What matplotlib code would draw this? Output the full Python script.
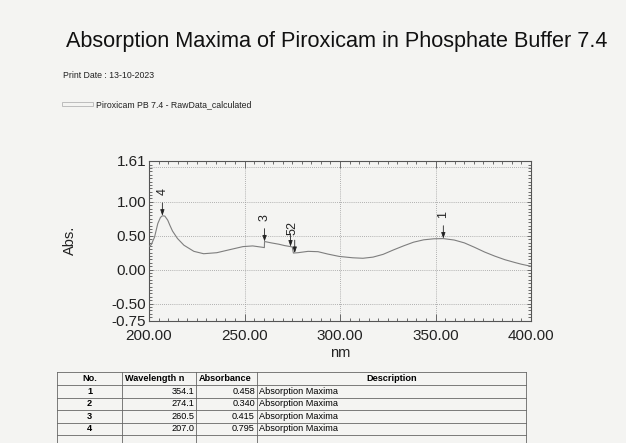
import matplotlib
matplotlib.use("Agg")
import matplotlib.pyplot as plt
from matplotlib.ticker import MultipleLocator, FixedLocator
from matplotlib.lines import Line2D
from matplotlib.patches import Rectangle

plt.rcParams['font.family'] = ['Liberation Sans', 'DejaVu Sans']

# ---------------- data ----------------
wavelength = [200.0, 201.2, 202.9, 204.6, 206.0, 207.0, 208.3, 209.8, 211.0, 212.3,
              214.9, 218.3, 223.5, 228.6, 235.5, 242.3, 249.2, 254.3, 259.4, 260.4,
              260.5, 264.0, 268.0, 271.0, 274.1, 275.0, 275.6, 278.0, 283.3, 288.5,
              293.6, 299.6, 306.7, 312.0, 317.3, 322.6, 327.9, 333.2, 338.5, 343.8,
              349.1, 354.1, 359.8, 365.1, 370.4, 375.7, 381.0, 386.3, 391.6, 395.0,
              400.0]
absorbance = [0.34, 0.37, 0.48, 0.68, 0.77, 0.795, 0.79, 0.73, 0.65, 0.57,
              0.46, 0.36, 0.27, 0.235, 0.25, 0.295, 0.34, 0.35, 0.33, 0.325,
              0.415, 0.395, 0.375, 0.355, 0.340, 0.335, 0.245, 0.25, 0.27, 0.265,
              0.23, 0.195, 0.175, 0.168, 0.185, 0.226, 0.29, 0.35, 0.405, 0.44,
              0.455, 0.458, 0.437, 0.395, 0.33, 0.26, 0.20, 0.147, 0.105, 0.08,
              0.05]

peak_labels = ["1", "2", "3", "4", "5"]
peak_wl = [354.1, 274.1, 260.5, 207.0, 276.3]
peak_abs = [0.458, 0.340, 0.415, 0.795, 0.245]

yticks = [1.61, 1.00, 0.50, 0.00, -0.50, -0.75]
xticks = [200, 250, 300, 350, 400]

table_header = ["No.", "Wavelength n", "Absorbance", "Description"]
table_no = ["1", "2", "3", "4"]
table_wl = ["354.1", "274.1", "260.5", "207.0"]
table_abs = ["0.458", "0.340", "0.415", "0.795"]
table_desc = ["Absorption Maxima", "Absorption Maxima", "Absorption Maxima", "Absorption Maxima"]

title = "Absorption Maxima of Piroxicam in Phosphate Buffer 7.4"
print_date = "Print Date : 13-10-2023"
legend_text = "Piroxicam PB 7.4 - RawData_calculated"

# ---------------- figure ----------------
W, H = 626, 443
bg = '#f4f4f2'
fig = plt.figure(figsize=(W / 100, H / 100), dpi=100, facecolor=bg)

def fx(px):
    return px / W

def fy(py):
    return 1 - py / H

fig.text(fx(337), fy(42), title, ha='center', va='center', fontsize=15.6, color='#111111')
fig.text(fx(63), fy(76), print_date, ha='left', va='center', fontsize=6.3, color='#222222')
fig.patches.append(Rectangle((fx(62), fy(106)), fx(31), 4 / H, transform=fig.transFigure,
                             fill=False, edgecolor='#bdbdbd', linewidth=0.7))
fig.text(fx(96), fy(105), legend_text, ha='left', va='center', fontsize=6.3, color='#222222')

left, right, top, bottom = 149, 531, 160.5, 320.5
ax = fig.add_axes([fx(left), fy(bottom), fx(right - left), (bottom - top) / H])
ax.set_facecolor(bg)

ax.plot(wavelength, absorbance, color='#7e7e7e', linewidth=0.8, zorder=3)

ax.set_xlim(200, 400)
ax.set_ylim(-0.75, 1.61)
ax.xaxis.set_major_locator(FixedLocator(xticks))
ax.xaxis.set_minor_locator(MultipleLocator(5))
ax.yaxis.set_major_locator(FixedLocator(yticks))
ax.yaxis.set_minor_locator(MultipleLocator(0.05))
ax.set_xticklabels([f"{v:.2f}" for v in xticks])
ax.set_yticklabels([f"{v:.2f}" for v in yticks])
ax.tick_params(which='both', direction='in', top=True, right=True, color='#555555', width=0.6)
ax.tick_params(which='major', length=5, labelsize=11, labelcolor='#222222')
ax.tick_params(axis='x', which='major', pad=6)
ax.tick_params(axis='y', which='major', pad=2, length=3)
ax.tick_params(which='minor', length=2.5)
for s in ax.spines.values():
    s.set_color('#555555')
    s.set_linewidth(0.8)

for gx in [250, 300, 350]:
    ax.axvline(gx, color='#9a9a9a', linestyle=(0, (1, 1.5)), linewidth=0.6, zorder=1)
for gy in [1.0, 0.5, 0.0, -0.5]:
    ax.axhline(gy, color='#9a9a9a', linestyle=(0, (1, 1.5)), linewidth=0.6, zorder=1)
ax.axhline(1.52, color='#9a9a9a', linestyle=(0, (1, 1.5)), linewidth=0.6, zorder=1)

ax.set_xlabel("nm", fontsize=10.5, labelpad=2, color='#222222')
fig.text(fx(70), fy(240), "Abs.", rotation=90, ha='center', va='center', fontsize=10.5, color='#222222')

# peak arrows
label_x = {"2": 275.2, "5": 275.2}
for lab, x, y in zip(peak_labels, peak_wl, peak_abs):
    L = 0.19
    ax.annotate("", xy=(x, y), xytext=(x, y + L),
                arrowprops=dict(arrowstyle='-|>,head_length=0.35,head_width=0.12',
                                color='#222222', lw=0.6, shrinkA=0, shrinkB=0), zorder=4)
    lx = label_x.get(lab, x)
    off = 0.17 if lab not in ("2", "5") else 0.12
    ax.text(lx, y + L + off, lab, rotation=90, ha='center', va='center',
            fontsize=9, color='#222222')

# ---------------- table ----------------
col_x = [57, 122, 196, 257, 526]
row_y = [372, 385, 397.5, 410, 422.5, 435]
lc = '#666666'
for i, yy in enumerate(row_y):
    fig.add_artist(Line2D([fx(col_x[0]), fx(col_x[-1])], [fy(yy), fy(yy)],
                          transform=fig.transFigure, color=lc, linewidth=0.6))
for xx in col_x:
    fig.add_artist(Line2D([fx(xx), fx(xx)], [fy(row_y[0]), fy(H + 2)],
                          transform=fig.transFigure, color=lc, linewidth=0.6))

fs = 6.6
hy = (row_y[0] + row_y[1]) / 2
fig.text(fx((col_x[0] + col_x[1]) / 2), fy(hy), table_header[0], ha='center', va='center', fontsize=fs, weight='bold')
fig.text(fx(col_x[1] + 3), fy(hy), table_header[1], ha='left', va='center', fontsize=fs, weight='bold')
fig.text(fx(col_x[2] + 3), fy(hy), table_header[2], ha='left', va='center', fontsize=fs, weight='bold')
fig.text(fx((col_x[3] + col_x[4]) / 2), fy(hy), table_header[3], ha='center', va='center', fontsize=fs, weight='bold')
for i in range(len(table_no)):
    cy = (row_y[i + 1] + row_y[i + 2]) / 2
    fig.text(fx((col_x[0] + col_x[1]) / 2), fy(cy), table_no[i], ha='center', va='center', fontsize=fs, weight='bold')
    fig.text(fx(col_x[2] - 2), fy(cy), table_wl[i], ha='right', va='center', fontsize=fs)
    fig.text(fx(col_x[3] - 2), fy(cy), table_abs[i], ha='right', va='center', fontsize=fs)
    fig.text(fx(col_x[3] + 2), fy(cy), table_desc[i], ha='left', va='center', fontsize=fs)

fig.savefig("out.png", dpi=100, facecolor=bg)
